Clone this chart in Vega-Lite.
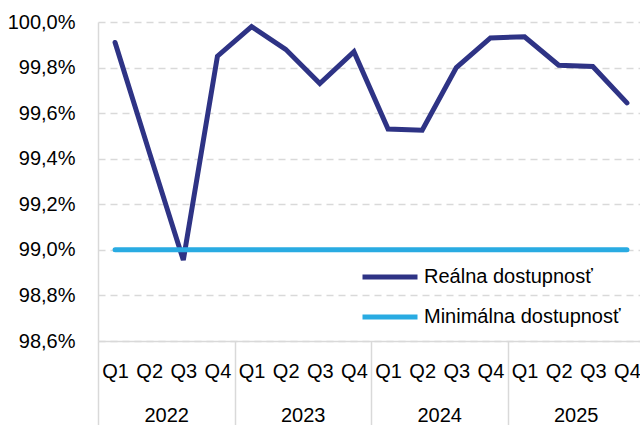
{
  "$schema": "https://vega.github.io/schema/vega-lite/v6.json",
  "width": 546,
  "height": 319,
  "autosize": {"type": "none"},
  "padding": {"left": 98, "top": 22, "right": 0, "bottom": 84},
  "background": "white",
  "config": {
    "view": {"stroke": null},
    "font": "Liberation Sans",
    "axis": {"labelFont": "Liberation Sans", "labelColor": "#000000", "labelFontSize": 20, "domainColor": "#d9d9d9", "tickColor": "#d9d9d9", "title": null}
  },
  "data": {
    "values": [
      {"i": 0, "year": 2022, "q": "Q1", "series": "Reálna dostupnosť", "value": 99.91},
      {"i": 1, "year": 2022, "q": "Q2", "series": "Reálna dostupnosť", "value": 99.43},
      {"i": 2, "year": 2022, "q": "Q3", "series": "Reálna dostupnosť", "value": 98.955},
      {"i": 3, "year": 2022, "q": "Q4", "series": "Reálna dostupnosť", "value": 99.85},
      {"i": 4, "year": 2023, "q": "Q1", "series": "Reálna dostupnosť", "value": 99.98},
      {"i": 5, "year": 2023, "q": "Q2", "series": "Reálna dostupnosť", "value": 99.88},
      {"i": 6, "year": 2023, "q": "Q3", "series": "Reálna dostupnosť", "value": 99.73},
      {"i": 7, "year": 2023, "q": "Q4", "series": "Reálna dostupnosť", "value": 99.87},
      {"i": 8, "year": 2024, "q": "Q1", "series": "Reálna dostupnosť", "value": 99.53},
      {"i": 9, "year": 2024, "q": "Q2", "series": "Reálna dostupnosť", "value": 99.525},
      {"i": 10, "year": 2024, "q": "Q3", "series": "Reálna dostupnosť", "value": 99.8},
      {"i": 11, "year": 2024, "q": "Q4", "series": "Reálna dostupnosť", "value": 99.93},
      {"i": 12, "year": 2025, "q": "Q1", "series": "Reálna dostupnosť", "value": 99.935},
      {"i": 13, "year": 2025, "q": "Q2", "series": "Reálna dostupnosť", "value": 99.81},
      {"i": 14, "year": 2025, "q": "Q3", "series": "Reálna dostupnosť", "value": 99.805},
      {"i": 15, "year": 2025, "q": "Q4", "series": "Reálna dostupnosť", "value": 99.645},
      {"i": 0, "year": 2022, "q": "Q1", "series": "Minimálna dostupnosť", "value": 99.0},
      {"i": 1, "year": 2022, "q": "Q2", "series": "Minimálna dostupnosť", "value": 99.0},
      {"i": 2, "year": 2022, "q": "Q3", "series": "Minimálna dostupnosť", "value": 99.0},
      {"i": 3, "year": 2022, "q": "Q4", "series": "Minimálna dostupnosť", "value": 99.0},
      {"i": 4, "year": 2023, "q": "Q1", "series": "Minimálna dostupnosť", "value": 99.0},
      {"i": 5, "year": 2023, "q": "Q2", "series": "Minimálna dostupnosť", "value": 99.0},
      {"i": 6, "year": 2023, "q": "Q3", "series": "Minimálna dostupnosť", "value": 99.0},
      {"i": 7, "year": 2023, "q": "Q4", "series": "Minimálna dostupnosť", "value": 99.0},
      {"i": 8, "year": 2024, "q": "Q1", "series": "Minimálna dostupnosť", "value": 99.0},
      {"i": 9, "year": 2024, "q": "Q2", "series": "Minimálna dostupnosť", "value": 99.0},
      {"i": 10, "year": 2024, "q": "Q3", "series": "Minimálna dostupnosť", "value": 99.0},
      {"i": 11, "year": 2024, "q": "Q4", "series": "Minimálna dostupnosť", "value": 99.0},
      {"i": 12, "year": 2025, "q": "Q1", "series": "Minimálna dostupnosť", "value": 99.0},
      {"i": 13, "year": 2025, "q": "Q2", "series": "Minimálna dostupnosť", "value": 99.0},
      {"i": 14, "year": 2025, "q": "Q3", "series": "Minimálna dostupnosť", "value": 99.0},
      {"i": 15, "year": 2025, "q": "Q4", "series": "Minimálna dostupnosť", "value": 99.0}
    ]
  },
  "resolve": {"axis": {"x": "independent"}},
  "layer": [
    {
      "mark": {"type": "line", "strokeWidth": 5, "strokeCap": "round", "strokeJoin": "miter"},
      "encoding": {
        "x": {
          "field": "i", "type": "quantitative",
          "scale": {"domain": [-0.5, 15.5], "nice": false, "zero": false},
          "axis": {"orient": "bottom", "values": [0,1,2,3,4,5,6,7,8,9,10,11,12,13,14,15], "labelExpr": "'Q' + ((datum.value % 4) + 1)", "ticks": false, "tickSize": 0, "labelPadding": 20, "grid": false, "domain": true, "domainColor": "#d9d9d9", "domainWidth": 1.5, "labelFlush": false, "labelOverlap": false}
        },
        "y": {
          "field": "value", "type": "quantitative",
          "scale": {"domain": [98.6, 100], "nice": false, "zero": false},
          "axis": {"values": [98.6, 98.8, 99.0, 99.2, 99.4, 99.6, 99.8, 100.0], "labelExpr": "replace(format(datum.value, '.1f'), '.', ',') + '%'", "ticks": false, "tickSize": 0, "labelPadding": 23, "grid": true, "gridColor": "#d9d9d9", "gridDash": [7, 5], "gridWidth": 1.5, "domain": true, "domainColor": "#d9d9d9", "domainWidth": 1.5, "labelFlush": false, "labelOverlap": false}
        },
        "color": {
          "field": "series", "type": "nominal",
          "scale": {"domain": ["Reálna dostupnosť", "Minimálna dostupnosť"], "range": ["#2E3385", "#29ABE2"]},
          "legend": {"orient": "none", "legendX": 262, "legendY": 225, "title": null, "symbolType": "stroke", "symbolSize": 3025, "symbolStrokeWidth": 5, "labelFontSize": 20, "labelFont": "Liberation Sans", "labelColor": "#000000", "labelOffset": 4, "rowPadding": 0, "padding": 0, "labelLimit": 400}
        }
      }
    },
    {
      "mark": {"type": "point", "opacity": 0},
      "encoding": {
        "x": {
          "field": "i", "type": "quantitative",
          "scale": {"domain": [-0.5, 15.5], "nice": false, "zero": false},
          "axis": {"orient": "bottom", "values": [-0.5, 3.5, 7.5, 11.5, 15.5], "labels": false, "ticks": true, "tickSize": 84, "tickColor": "#d9d9d9", "tickWidth": 1.5, "domain": false, "grid": false}
        }
      }
    },
    {
      "mark": {"type": "point", "opacity": 0},
      "encoding": {
        "x": {
          "field": "i", "type": "quantitative",
          "scale": {"domain": [-0.5, 15.5], "nice": false, "zero": false},
          "axis": {"orient": "bottom", "values": [1.5, 5.5, 9.5, 13.5], "labelExpr": "'' + (2022 + floor(datum.value / 4))", "ticks": false, "tickSize": 0, "labelPadding": 64, "domain": false, "grid": false, "labelFlush": false, "labelOverlap": false}
        }
      }
    }
  ]
}
